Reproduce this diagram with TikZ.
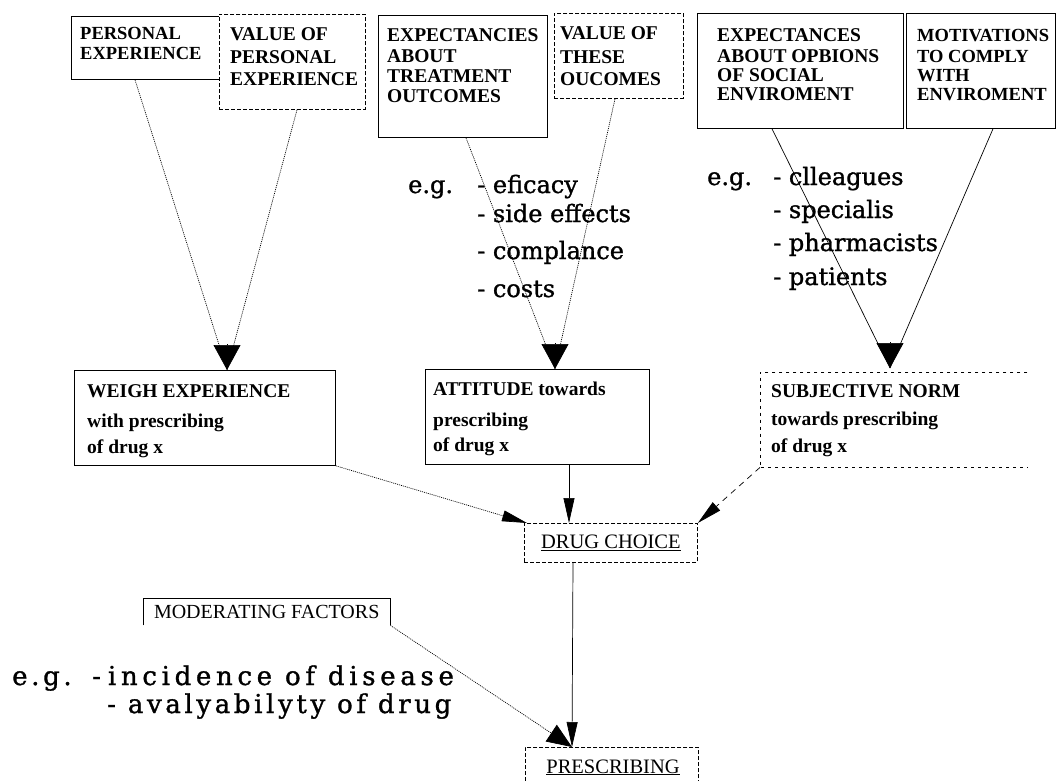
\documentclass[tikz,border=0pt]{standalone}
\usepackage{fontspec}
\setmainfont{Liberation Serif}
\newfontfamily\listfont{DejaVu Serif}[FakeBold=1.2]
\newfontfamily\listwideA{DejaVu Serif}[FakeBold=1.2,LetterSpace=18]
\newfontfamily\listwideB{DejaVu Serif}[FakeBold=1.2,LetterSpace=14]
\usetikzlibrary{arrows.meta,calc}

\begin{document}
\begin{tikzpicture}[x=1pt,y=-1pt,
  box/.style={draw, line width=0.8pt, fill=white, inner sep=0pt, anchor=north west},
  dbox/.style={box, dash pattern=on 4pt off 2pt},
  ln/.style={anchor=base west, inner sep=0pt},
  capsA/.style={ln, font=\fontsize{18.5}{20}\selectfont\bfseries},
  capsB/.style={ln, font=\fontsize{19.5}{21}\selectfont\bfseries},
  midtxt/.style={ln, font=\fontsize{19.5}{21}\selectfont\bfseries},
  egtxt/.style={ln, font=\fontsize{24}{26}\selectfont\listfont},
  conn/.style={line width=0.7pt},
  dotconn/.style={conn, dash pattern=on 1pt off 1pt},
  bighead/.style={-{Triangle[length=25pt,width=27pt]}},
  thinhead/.style={-{Triangle[length=25pt,width=11pt]}},
  diaghead/.style={-{Triangle[length=25pt,width=20pt]}}
]
\fill[white] (0,0) rectangle (1057,780);
\useasboundingbox (0,0) rectangle (1057,780);

% ---------- top row: beliefs and evaluations ----------
\node[box, minimum width=148, minimum height=63] (pe) at (71,16) {};
\node[dbox, minimum width=146, minimum height=95] (vpe) at (219,14) {};
\node[box, minimum width=169, minimum height=122] (eto) at (378,15) {};
\node[dbox, minimum width=129, minimum height=85] (vto) at (554,13) {};
\node[box, minimum width=206, minimum height=115] (eso) at (697,13) {};
\node[box, minimum width=149, minimum height=115] (mce) at (906,13) {};

\node[capsA] (pe1) at (80,39) {PERSONAL};
\node[capsA] (pe2) at (80,59) {EXPERIENCE};

\node[capsB] (vpe1) at (230,40) {VALUE OF};
\node[capsB] (vpe2) at (230,63) {PERSONAL};
\node[capsB] (vpe3) at (230,85) {EXPERIENCE};

\node[capsB] (eto1) at (387,41) {EXPECTANCIES};
\node[capsB] (eto2) at (387,62) {ABOUT};
\node[capsB] (eto3) at (387,82) {TREATMENT};
\node[capsB] (eto4) at (387,102) {OUTCOMES};

\node[capsB] (vto1) at (560,39) {VALUE OF};
\node[capsB] (vto2) at (560,63) {THESE};
\node[capsB] (vto3) at (560,85) {OUCOMES};

\node[capsB] (eso1) at (717,41) {EXPECTANCES};
\node[capsB] (eso2) at (717,62) {ABOUT OPBIONS};
\node[capsB] (eso3) at (717,81) {OF SOCIAL};
\node[capsB] (eso4) at (717,100) {ENVIROMENT};

\node[capsA] (mce1) at (917,41) {MOTIVATIONS};
\node[capsA] (mce2) at (917,62) {TO COMPLY};
\node[capsA] (mce3) at (917,81) {WITH};
\node[capsA] (mce4) at (917,100) {ENVIROMENT};

% ---------- example lists ----------
\node[egtxt] (egA) at (408,193) {e.g.};
\node[egtxt] (egA1) at (477,193) {- eficacy};
\node[egtxt] (egA2) at (477,222) {- side effects};
\node[egtxt] (egA3) at (477,259) {- complance};
\node[egtxt] (egA4) at (477,297) {- costs};

\node[egtxt] (egB) at (707,185) {e.g.};
\node[egtxt] (egB1) at (773,185) {- clleagues};
\node[egtxt] (egB2) at (773,218) {- specialis};
\node[egtxt] (egB3) at (773,251) {- pharmacists};
\node[egtxt] (egB4) at (773,285) {- patients};

% ---------- middle row ----------
\node[box, minimum width=261, minimum height=95] (weigh) at (74,370) {};
\node[box, minimum width=224, minimum height=95] (att) at (425,369) {};
\node[inner sep=0pt, anchor=north west, minimum width=267, minimum height=95] (subj) at (760,372) {};
\draw[line width=0.7pt, dash pattern=on 3pt off 4pt]
  (subj.north east) -- (subj.north west) -- (subj.south west) -- (subj.south east);

\node[midtxt] (w1) at (87,397) {WEIGH EXPERIENCE};
\node[midtxt] (w2) at (87,427) {with prescribing};
\node[midtxt] (w3) at (87,453) {of drug x};

\node[midtxt] (a1) at (433,395) {ATTITUDE towards};
\node[midtxt] (a2) at (433,426) {prescribing};
\node[midtxt] (a3) at (433,451) {of drug x};

\node[midtxt] (s1) at (771,397) {SUBJECTIVE NORM};
\node[midtxt] (s2) at (771,425) {towards prescribing};
\node[midtxt] (s3) at (771,452) {of drug x};

% ---------- choice and outcome ----------
\node[dbox, anchor=north west, minimum width=173, minimum height=39,
      font=\fontsize{20.5}{22}\selectfont] (dc) at (524,523) {\underline{DRUG CHOICE}};

\node[inner sep=0pt, anchor=north west, minimum width=247, minimum height=27,
      font=\fontsize{20}{22}\selectfont] (mod) at (143,598) {MODERATING FACTORS};
\draw[line width=0.8pt] (mod.south west) |- (mod.north east) -- (mod.south east);

\node[ln, font=\fontsize{26}{28}\selectfont\listwideB] (egC) at (12,685) {e.g.};
\node[ln, font=\fontsize{26}{28}\selectfont\listwideA] (egC1) at (92,685) {-\kern7pt incidence of disease};
\node[ln, font=\fontsize{26}{28}\selectfont\listwideB] (egC2) at (107,713) {- avalyabilyty of drug};

\node[dbox, minimum width=173, minimum height=50] (presc) at (525,747) {};
\node[anchor=base, inner sep=0pt, font=\fontsize{20.5}{22}\selectfont] (presctext) at (613,773) {\underline{PRESCRIBING}};

% ---------- arrow tips ----------
\coordinate (wtip) at ($(weigh.north west)+(153,0)$);
\coordinate (atip) at ($(att.north west)+(130,0)$);
\coordinate (stip) at ($(subj.north west)+(130,-4)$);
\coordinate (ptip) at ($(presc.north west)+(47,0)$);

% ---------- connectors ----------
\draw[dotconn] ($(pe.south west)+(64,0)$) -- (wtip);
\draw[dotconn] ($(vpe.south west)+(78,0)$) -- (wtip);
\draw[bighead, conn] ($(wtip)+(0,-26)$) -- (wtip);

\draw[dotconn] ($(eto.south west)+(88,0)$) -- (atip);
\draw[dotconn] ($(vto.south west)+(61,0)$) -- (atip);
\draw[bighead, conn] ($(atip)+(0,-26)$) -- (atip);

\draw[conn] ($(eso.south west)+(75,0)$) -- (stip);
\draw[conn] ($(mce.south west)+(87,0)$) -- (stip);
\draw[bighead, conn] ($(stip)+(0,-26)$) -- (stip);

\draw[dotconn, thinhead] (weigh.south east) -- ($(dc.north west)+(3,0)$);
\draw[conn, thinhead] ($(att.south west)+(144,0)$) -- ($(dc.north west)+(45,0)$);
\draw[conn, dash pattern=on 6pt off 5pt, thinhead] (subj.south west) -- (dc.north east);

\draw[conn, thinhead] ($(dc.south west)+(49,0)$) -- (ptip);
\draw[dotconn, diaghead] (mod.south east) -- (ptip);
\end{tikzpicture}
\end{document}
